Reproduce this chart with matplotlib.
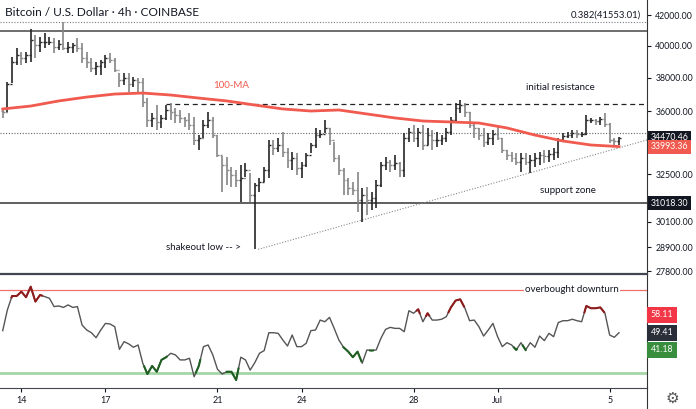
import numpy as np
import pandas as pd
import matplotlib
matplotlib.use('Agg')
import matplotlib.pyplot as plt
from matplotlib.ticker import FixedLocator, FixedFormatter, NullLocator
import matplotlib.transforms as mtransforms
from matplotlib.lines import Line2D

plt.rcParams['font.family'] = ['Lato', 'DejaVu Sans']

# 4h bars, BTC/USD
times = pd.date_range('2021-06-13 08:00', periods=133, freq='4h')
first_open = 36000

highs = [36110, 37730, 39280, 39850, 39590, 39590, 41090, 40700, 40560, 40830,
         40560, 40500, 40370, 41560, 40240, 40170, 40500, 40170, 39590, 39210,
         38960, 39090, 39400, 39530, 39210, 38280, 38280, 38280, 38030, 37970,
         37970, 36760, 35880, 36350, 35770, 36350, 36470, 36180, 36060, 35650,
         35880, 35650, 34630, 35480, 35940, 35650, 34630, 33480, 33430, 32890,
         32730, 33000, 33110, 32570, 32050, 32310, 32890, 34360, 34360, 34470,
         34800, 33920, 33700, 33640, 33160, 33640, 34190, 35030, 34910, 35480,
         35030, 34250, 33540, 32840, 32310, 32110, 32630, 31800, 31850, 31590,
         32210, 33160, 33430, 33270, 33540, 33160, 34750, 35030, 35200, 35030,
         35200, 35030, 34910, 34800, 34630, 35030, 35650, 36470, 36650, 36470,
         35940, 35310, 35030, 35030, 34750, 34910, 35080, 34470, 33810, 33700,
         33640, 33640, 33640, 33540, 33640, 33700, 33810, 33810, 33920, 34470,
         34750, 34800, 34910, 34910, 34800, 35770, 35600, 35540, 35650, 35880,
         35310, 34470, 34520]
lows = [35600, 35940, 37660, 38770, 38770, 38900, 38960, 39210, 39590, 39850,
        40040, 39530, 39720, 39720, 39530, 39530, 39590, 38900, 38590, 38340,
        38150, 38150, 38590, 38900, 38340, 37420, 37540, 37120, 37420, 37120,
        36230, 35080, 35080, 34910, 35030, 35480, 35480, 35310, 35310, 35080,
        34910, 34080, 33810, 34470, 35030, 34470, 33430, 31590, 31950, 31850,
        31850, 31090, 32360, 31090, 28800, 31590, 32110, 32310, 33540, 33700,
        33430, 32840, 32730, 32470, 32310, 32890, 33640, 33920, 34470, 34750,
        34080, 33160, 32470, 31440, 31440, 31440, 30590, 30100, 30440, 30690,
        30790, 31850, 32730, 32630, 32730, 32360, 32360, 34250, 34250, 33970,
        33810, 34080, 33810, 33970, 34080, 34250, 34630, 35310, 35880, 35650,
        35030, 34470, 34360, 33970, 34080, 34080, 34360, 33640, 33270, 33160,
        33000, 32630, 33000, 32570, 32890, 33000, 33110, 33160, 33270, 33370,
        34360, 34470, 34470, 34470, 34520, 34630, 35310, 35200, 35200, 35080,
        34190, 33970, 34080]
closes = [35940, 37600, 38960, 39400, 39210, 39400, 40370, 40040, 40240, 40240,
          40240, 39910, 40110, 39850, 39910, 40040, 39850, 39210, 38960, 38590,
          38710, 38960, 39210, 39090, 38460, 37850, 37970, 37600, 37850, 37730,
          36530, 35480, 35600, 35370, 35600, 36060, 35940, 35770, 35600, 35480,
          35200, 34360, 34470, 35200, 35480, 34630, 33540, 33000, 32730, 32470,
          32210, 32310, 32730, 31440, 31950, 32110, 32730, 34080, 33920, 34080,
          33700, 33270, 33370, 32840, 33000, 33540, 34080, 34630, 34690, 35030,
          34360, 33370, 32730, 32210, 31800, 31690, 31190, 31440, 31190, 31290,
          31950, 33000, 33160, 33000, 33110, 32730, 34470, 34800, 34470, 34800,
          34080, 34630, 34360, 34360, 34470, 34800, 35480, 36180, 36350, 35940,
          35200, 35030, 34630, 34250, 34470, 34690, 34470, 33810, 33540, 33370,
          33160, 33370, 33160, 33270, 33370, 33540, 33480, 33590, 33700, 34360,
          34580, 34630, 34750, 34690, 34690, 35480, 35480, 35420, 35540, 35250,
          34360, 34300, 34470.46]

# 100-MA, read once a day
ma_bars = [0, 6, 12, 18, 24, 30, 36, 42, 48, 54, 60, 66, 72, 78, 84, 90, 96,
           102, 108, 114, 120, 126, 132]
ma_vals = [36120, 36290, 36590, 36820, 37000, 37060, 36940, 36760, 36590, 36350,
           36120, 36000, 36060, 35830, 35600, 35425, 35370, 35310, 35030, 34630,
           34300, 34080, 33993.36]

rsi = [50.4, 60.4, 67.1, 67.1, 69.2, 66.5, 71.6, 64.4, 67.6, 66.8,
       66.0, 62.0, 62.3, 61.6, 62.8, 61.6, 62.0, 53.1, 50.7, 49.4,
       47.0, 50.7, 53.9, 53.6, 52.3, 41.4, 45.1, 44.0, 42.4, 43.5,
       34.7, 29.5, 33.4, 30.6, 36.3, 37.6, 39.5, 38.7, 36.3, 36.3,
       37.1, 28.2, 33.4, 42.7, 43.5, 38.7, 31.8, 29.5, 30.6, 30.6,
       26.6, 37.6, 36.3, 31.4, 35.0, 39.5, 40.8, 49.4, 49.4, 49.1,
       45.9, 43.0, 48.3, 42.7, 42.7, 44.3, 50.4, 50.7, 55.5, 54.7,
       56.8, 51.5, 45.9, 42.4, 40.3, 37.6, 40.3, 34.7, 41.1, 40.8,
       41.1, 46.7, 51.0, 52.0, 51.5, 51.5, 49.9, 60.0, 58.8, 60.7,
       54.7, 58.8, 55.5, 55.5, 55.9, 57.1, 61.6, 64.9, 65.5, 61.2,
       55.2, 55.5, 52.3, 47.8, 50.7, 53.9, 47.5, 42.7, 44.6, 43.5,
       41.1, 44.6, 41.1, 44.6, 42.4, 47.8, 45.6, 49.1, 47.5, 54.3,
       55.2, 55.2, 55.9, 55.2, 54.7, 62.3, 61.2, 61.2, 61.6, 58.8,
       48.3, 47.2, 49.41]
red_spans = [(1.9, 8.4), (88.7, 89.3), (90.7, 91.3), (95.5, 98.8), (124.6, 128.8)]
green_spans = [(30.3, 35.1), (41.4, 42.3), (48.0, 50.5), (73.0, 76.8),
               (78.7, 79.3), (109.5, 110.1), (111.4, 112.0)]

fib_level = 41553.01
top_level = 40950
resistance = 36400
mid_level = 34750
support = 31018.30
trend_start = (54.7, 28800)
trend_end = (138, 34360)

price_ticks = [42000, 40000, 38000, 36000, 32500, 31200, 30100, 28900, 27800]
hidden_ticks = [31200]
tick_days = ['2021-06-14', '2021-06-17', '2021-06-21', '2021-06-24',
             '2021-06-28', '2021-07-01', '2021-07-05']
tick_names = ['14', '17', '21', '24', '28', 'Jul', '5']

# ---------------------------------------------------------------
W, H = 696, 409
fig = plt.figure(figsize=(W / 100, H / 100), dpi=100)
right = 647 / W
ax = fig.add_axes([0, (H - 274) / H, right, 274 / H])
ax2 = fig.add_axes([0, (H - 388) / H, right, (388 - 274) / H], sharex=ax)

x = np.arange(len(closes))
opens = [first_open] + closes[:-1]
up = np.array(closes) >= np.array(opens)
cols = np.where(up, '#262626', '#858585')

ax.set_yscale('log')
ax.vlines(x, lows, highs, colors=cols, linewidth=1.2, zorder=3)
ax.hlines(opens, x - 0.4, x, colors=cols, linewidth=1.0, zorder=3)
ax.hlines(closes, x, x + 0.4, colors=cols, linewidth=1.0, zorder=3)

ax.plot(ma_bars, ma_vals, color='#f05a4f', linewidth=2.0, zorder=4)

ax.axhline(fib_level, color='#787b86', linewidth=0.8, linestyle=(0, (1, 1.5)))
ax.axhline(top_level, color='#555555', linewidth=1.2)
ax.hlines(resistance, 35, 140, color='#222222', linewidth=0.9, linestyle=(0, (4, 3)))
ax.axhline(mid_level, color='#666666', linewidth=0.8, linestyle=(0, (1, 1.5)))
ax.axhline(support, color='#444444', linewidth=1.2)
ax.plot([trend_start[0], trend_end[0]], [trend_start[1], trend_end[1]],
        color='#888888', linewidth=0.8, linestyle=(0, (1, 1.5)))

xmin, xmax = -0.58, 138
ax.set_xlim(xmin, xmax)
ax.set_ylim(27678, 43060)

ax.yaxis.tick_right()
ax.yaxis.set_major_locator(FixedLocator(price_ticks))
ax.yaxis.set_major_formatter(FixedFormatter(
    ['' if p in hidden_ticks else f'{p:.2f}' for p in price_ticks]))
ax.yaxis.set_minor_locator(NullLocator())
ax.tick_params(axis='y', labelsize=6.3, colors='#131722', length=3, pad=3)
ax.tick_params(axis='x', bottom=False, labelbottom=False)
for s in ['left', 'top', 'bottom']:
    ax.spines[s].set_visible(False)
ax.spines['right'].set_color('#333333')

ax.text(0.007, 0.975, 'Bitcoin / U.S. Dollar · 4h · COINBASE', transform=ax.transAxes,
        fontsize=8.6, color='#131722', va='top', ha='left')
ax.text(0.99, fib_level * 1.004, '0.382(41553.01)', transform=mtransforms.blended_transform_factory(ax.transAxes, ax.transData),
        fontsize=6.8, color='#131722', ha='right', va='bottom')
ax.text(45, 37500, '100-MA', fontsize=7, color='#f05a4f', ha='left', va='center')
ax.text(112, 37400, 'initial resistance', fontsize=7, color='#131722', ha='left', va='center')
ax.text(115, 31650, 'support zone', fontsize=7, color='#131722', ha='left', va='center')
ax.text(35, 28900, 'shakeout low -- >', fontsize=7, color='#131722', ha='left', va='center')

yt = mtransforms.blended_transform_factory(ax.transAxes, ax.transData)
for val, fc in [(34470.46, '#131722'), (33993.36, '#f05a4f'), (support, '#131722')]:
    ax.text(1.006, val, f'{val:.2f}', transform=yt, fontsize=6.3, color='white',
            ha='left', va='center', clip_on=False, zorder=10,
            bbox=dict(boxstyle='square,pad=0.28', fc=fc, ec='none'))

# RSI panel
ax2.plot(x, rsi, color='#555555', linewidth=1.0, zorder=3)
for spans, c in [(red_spans, '#8e1c1c'), (green_spans, '#1e5e20')]:
    for a, b in spans:
        xs = np.concatenate([[a], x[(x > a) & (x < b)], [b]])
        ax2.plot(xs, np.interp(xs, x, rsi), color=c, linewidth=1.5, zorder=4)
ax2.axhline(70, color='#f2706a', linewidth=0.9)
ax2.axhline(30, color='#a5d6a7', linewidth=2.0)
ax2.set_ylim(22.77, 77.7)
ax2.text(111.9, 70, 'overbought downturn', fontsize=7, color='#131722', ha='left', va='center',
         bbox=dict(boxstyle='square,pad=0.15', fc='white', ec='none'))

ax2.yaxis.tick_right()
ax2.set_yticks([60, 40])
ax2.set_yticklabels(['', ''])
ax2.tick_params(axis='y', labelsize=6.3, colors='#131722', length=3, pad=3)
ax2.spines['left'].set_visible(False)
ax2.spines['top'].set_color('#434651')
ax2.spines['top'].set_linewidth(1.6)
ax2.spines['bottom'].set_color('#434651')
ax2.spines['right'].set_color('#333333')

tick_pos = [int(np.searchsorted(times, pd.Timestamp(d))) for d in tick_days]
ax2.set_xticks(tick_pos)
ax2.set_xticklabels(tick_names)
ax2.tick_params(axis='x', labelsize=6.5, colors='#131722', length=3, pad=3)

yt2 = mtransforms.blended_transform_factory(ax2.transAxes, ax2.transData)
for val, fc in [(58.11, '#f23645'), (49.41, '#2a2e39'), (41.18, '#388e3c')]:
    ax2.text(1.006, val, f'{val:.2f}', transform=yt2, fontsize=6.3, color='white',
             ha='left', va='center', clip_on=False, zorder=10,
             bbox=dict(boxstyle='square,pad=0.4', fc=fc, ec='none'))

fig.add_artist(Line2D([right, right], [0, (H - 388) / H], color='#333333', linewidth=0.8))
fig.text(672 / W, 1 - 398 / H, '\u2699', fontsize=11, color='#555555',
         ha='center', va='center', family='DejaVu Sans')

fig.savefig('out.png', dpi=100)
